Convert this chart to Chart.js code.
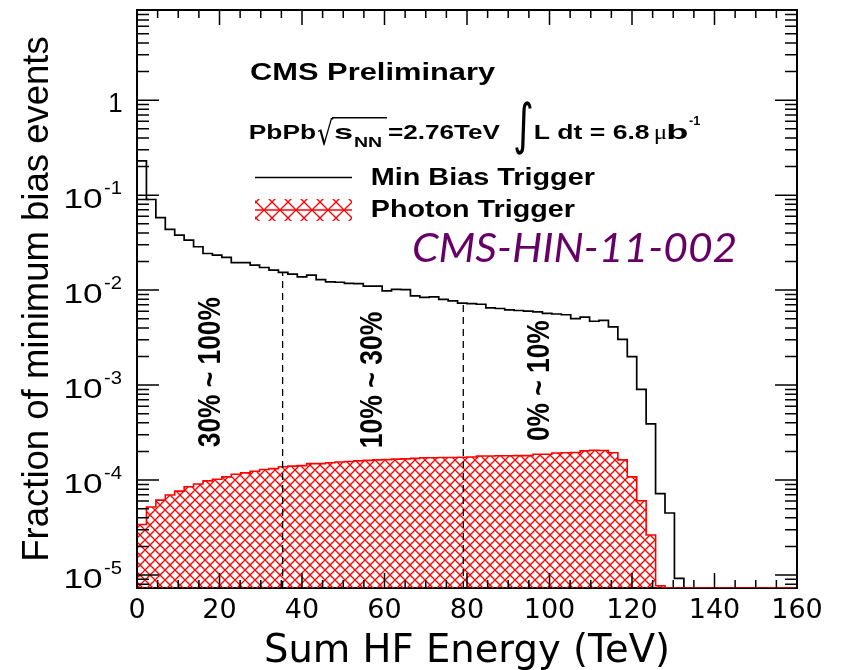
<!DOCTYPE html>
<html>
<head>
<meta charset="utf-8">
<script src="https://cdn.jsdelivr.net/npm/chart.js@4.4.1/dist/chart.umd.min.js"></script>
<style>
  html, body { margin: 0; padding: 0; background: #fff; }
  canvas { display: block; }
</style>
</head>
<body>
<canvas id="hf" width="846" height="670"></canvas>
<script>
// Sum HF energy histograms, 70 bins from 0 to 160 TeV
const BIN_WIDTH = 160 / 70;
const minBiasFraction = [
  0.23, 0.090, 0.058, 0.0435, 0.038, 0.0336, 0.0286, 0.0243, 0.0233, 0.0221,
  0.0195, 0.0195, 0.0183, 0.0173, 0.0162, 0.0154, 0.0147, 0.0138, 0.0144, 0.0129,
  0.0122, 0.0121, 0.0118, 0.0117, 0.0110, 0.0110, 0.0098, 0.0102, 0.0101, 0.0087,
  0.0084, 0.0085, 0.0080, 0.0077, 0.0073, 0.0072, 0.0071, 0.0065, 0.0064, 0.0062,
  0.0061, 0.0060, 0.0059, 0.0057, 0.0056, 0.0055, 0.0050, 0.0052, 0.0047, 0.0048,
  0.0041, 0.00303, 0.00199, 0.00090, 0.00039, 7.2e-5, 4.5e-5, 9.2e-6, 0, 0,
  0, 0, 0, 0, 0, 0, 0, 0, 0, 0
];
const photonFraction = [
  3.4e-5, 5.2e-5, 6.15e-5, 6.95e-5, 7.65e-5, 8.5e-5, 9.1e-5, 9.8e-5, 1.02e-4, 1.08e-4,
  1.15e-4, 1.19e-4, 1.24e-4, 1.29e-4, 1.32e-4, 1.38e-4, 1.40e-4, 1.42e-4, 1.49e-4, 1.49e-4,
  1.52e-4, 1.55e-4, 1.57e-4, 1.59e-4, 1.61e-4, 1.63e-4, 1.64e-4, 1.66e-4, 1.67e-4, 1.69e-4,
  1.72e-4, 1.72e-4, 1.73e-4, 1.73e-4, 1.74e-4, 1.75e-4, 1.79e-4, 1.79e-4, 1.80e-4, 1.80e-4,
  1.81e-4, 1.81e-4, 1.87e-4, 1.87e-4, 1.93e-4, 1.94e-4, 1.95e-4, 2.03e-4, 2.06e-4, 2.05e-4,
  1.94e-4, 1.63e-4, 1.08e-4, 6.05e-5, 2.64e-5, 7.7e-6, 0, 0, 0, 0,
  0, 0, 0, 0, 0, 0, 0, 0, 0, 0
];
const legendLabels = ['Min Bias Trigger', 'Photon Trigger'];

// centrality boundaries (TeV) and the region names
const centralityCuts = [35.3, 79.1];
const centralityLabels = ['30% ~ 100%', '10% ~ 30%', '0% ~ 10%'];

// axes
const X_MIN = 0, X_MAX = 160, X_MAJOR = 20, X_MINOR = 5;
const Y_MIN = 7.3e-6, Y_MAX = 8.9;
const yDecades = [-5, -4, -3, -2, -1, 0];

// rotated centrality names: [TeV at centre, fraction at text start, fraction at text end]
const centralityLabelAt = [[17.45, 2.22e-4, 8.4e-3], [56.7, 2.22e-4, 5.9e-3], [97.2, 2.64e-4, 4.8e-3]];

const B = s => `bold ${s}px "Liberation Sans", Arial, sans-serif`;
const R = s => `${s}px "Liberation Sans", Arial, sans-serif`;

// ROOT draws empty bins on the frame floor
const steps = vals => vals.map((v, i) => ({ x: i * BIN_WIDTH, y: Math.max(v, Y_MIN) }))
  .concat([{ x: X_MAX, y: Math.max(vals[vals.length - 1], Y_MIN) }]);
const binValue = e => minBiasFraction[Math.min(minBiasFraction.length - 1, Math.floor(e / BIN_WIDTH))];

function hatch(color, size, width) {
  const c = document.createElement('canvas');
  c.width = c.height = size;
  const g = c.getContext('2d');
  g.strokeStyle = color;
  g.lineWidth = width;
  const h = size / 2;
  g.beginPath();
  g.moveTo(h - 1, -1); g.lineTo(size + 1, h + 1);
  g.moveTo(-1, h - 1); g.lineTo(h + 1, size + 1);
  g.moveTo(h + 1, -1); g.lineTo(-1, h + 1);
  g.moveTo(size + 1, h - 1); g.lineTo(h - 1, size + 1);
  g.stroke();
  return g.createPattern(c, 'repeat');
}

// squeeze/stretch the ink of str between left and right, on baseline y
function fitInk(ctx, str, left, right, y, font) {
  ctx.save();
  ctx.font = font;
  ctx.textAlign = 'left';
  ctx.textBaseline = 'alphabetic';
  const m = ctx.measureText(str);
  const w = m.actualBoundingBoxLeft + m.actualBoundingBoxRight;
  ctx.translate(left, y);
  ctx.scale((right - left) / w, 1);
  ctx.fillText(str, m.actualBoundingBoxLeft, 0);
  ctx.restore();
}

function fitBox(ctx, str, left, top, right, bottom, font) {
  ctx.save();
  ctx.font = font;
  ctx.textAlign = 'left';
  ctx.textBaseline = 'alphabetic';
  const m = ctx.measureText(str);
  const w = m.actualBoundingBoxLeft + m.actualBoundingBoxRight;
  const h = m.actualBoundingBoxAscent + m.actualBoundingBoxDescent;
  ctx.translate(left, top);
  ctx.scale((right - left) / w, (bottom - top) / h);
  ctx.fillText(str, m.actualBoundingBoxLeft, m.actualBoundingBoxAscent);
  ctx.restore();
}

// text reading upwards, ink from yBottom to yTop, thickness thick around cx
function fitUp(ctx, str, cx, yBottom, yTop, thick, font) {
  ctx.save();
  ctx.font = font;
  ctx.textAlign = 'left';
  ctx.textBaseline = 'alphabetic';
  const m = ctx.measureText(str);
  const su = (yBottom - yTop) / (m.actualBoundingBoxLeft + m.actualBoundingBoxRight);
  const sv = thick / (m.actualBoundingBoxAscent + m.actualBoundingBoxDescent);
  ctx.translate(cx + thick / 2 - m.actualBoundingBoxDescent * sv, yBottom);
  ctx.rotate(-Math.PI / 2);
  ctx.scale(su, sv);
  ctx.fillText(str, m.actualBoundingBoxLeft, 0);
  ctx.restore();
}

const photonHatch = hatch('#ff0000', 10, 1.3);
const legendHatch = hatch('#ff0000', 16, 1.3);
legendHatch.setTransform(new DOMMatrix().translate(0, 210));

// frame, inward ticks, y labels, legend and texts in ROOT style
const rootStyle = {
  id: 'rootStyle',
  afterDatasetsDraw(chart) {
    const { ctx, chartArea: a, scales: { x, y } } = chart;
    ctx.save();
    ctx.strokeStyle = '#000';
    ctx.lineWidth = 2;
    ctx.beginPath();
    ctx.moveTo(a.left, a.bottom); ctx.lineTo(a.left, a.top);
    ctx.lineTo(a.right, a.top); ctx.lineTo(a.right, a.bottom);
    ctx.stroke();

    ctx.lineWidth = 1.5;
    ctx.beginPath();
    for (let v = X_MIN; v <= X_MAX; v += X_MINOR) {
      const px = x.getPixelForValue(v);
      const len = v % X_MAJOR === 0 ? 15 : 8;
      ctx.moveTo(px, a.bottom); ctx.lineTo(px, a.bottom - len);
      ctx.moveTo(px, a.top); ctx.lineTo(px, a.top + len);
    }
    for (let k = -6; k <= 0; k++) {
      for (let m = 1; m <= 9; m++) {
        const v = m * Math.pow(10, k);
        if (v < Y_MIN || v > Y_MAX) continue;
        const py = y.getPixelForValue(v);
        const len = m === 1 ? 22 : 12;
        ctx.moveTo(a.left, py); ctx.lineTo(a.left + len, py);
        ctx.moveTo(a.right, py); ctx.lineTo(a.right - len, py);
      }
    }
    ctx.stroke();

    // y tick labels 10^k
    ctx.fillStyle = '#000';
    yDecades.forEach(k => {
      const py = y.getPixelForValue(Math.pow(10, k));
      if (k === 0) {
        fitInk(ctx, '1', a.left - 27, a.left - 15, py + 12, R(28));
        return;
      }
      fitInk(ctx, '10', a.left - 71, a.left - 35, py + 13, R(28));
      fitInk(ctx, String(k), a.left - 33, a.left - 15, py - 1, R(18));
    });

    // header
    fitInk(ctx, 'CMS Preliminary', 250, 495, 80, B(23.5));
    fitInk(ctx, 'PbPb', 250, 315, 138.5, B(21));
    fitBox(ctx, '√', 317, 117, 334, 146, '24px "DejaVu Sans"');
    ctx.lineWidth = 1.4;
    ctx.beginPath(); ctx.moveTo(332, 117.7); ctx.lineTo(387, 117.7); ctx.stroke();
    fitInk(ctx, 's', 334, 352, 138.5, B(21));
    fitInk(ctx, 'NN', 354, 382, 146.5, B(14));
    fitInk(ctx, '=2.76TeV', 388, 500, 138.5, B(21));
    fitBox(ctx, '∫', 515, 100, 532, 155, '40px "DejaVu Sans"');
    fitInk(ctx, 'L dt = 6.8', 535, 650, 138.5, B(21));
    fitInk(ctx, 'μ', 655, 667, 138.5, '21px "Liberation Serif", serif');
    fitInk(ctx, 'b', 668, 687, 138.5, B(21));
    fitInk(ctx, '-1', 689, 700, 125, B(13));

    // legend
    const mb = chart.data.datasets[0], ph = chart.data.datasets[1];
    ctx.strokeStyle = mb.borderColor; ctx.lineWidth = mb.borderWidth;
    ctx.beginPath(); ctx.moveTo(255, 177.5); ctx.lineTo(352, 177.5); ctx.stroke();
    ctx.fillStyle = legendHatch;
    ctx.fillRect(255, 199, 97, 22);
    ctx.strokeStyle = ph.borderColor; ctx.lineWidth = ph.borderWidth;
    ctx.beginPath(); ctx.moveTo(255, 210); ctx.lineTo(352, 210); ctx.stroke();
    ctx.fillStyle = '#000';
    fitInk(ctx, legendLabels[0], 372, 595, 185, B(23));
    fitInk(ctx, legendLabels[1], 372, 575, 217, B(23));

    // centrality regions
    centralityLabels.forEach((t, i) => {
      const [e, v0, v1] = centralityLabelAt[i];
      fitUp(ctx, t, x.getPixelForValue(e), y.getPixelForValue(v0), y.getPixelForValue(v1), 22, B(26));
    });

    ctx.fillStyle = '#660066';
    fitInk(ctx, 'CMS-HIN-11-002', 413, 735, 262, 'italic 40px Lato, "Open Sans", sans-serif');
    ctx.restore();
  }
};

new Chart(document.getElementById('hf'), {
  type: 'line',
  data: {
    datasets: [
      {
        label: legendLabels[0],
        data: steps(minBiasFraction),
        borderColor: '#000000',
        borderWidth: 1.7,
        stepped: 'before',
        fill: false,
        pointRadius: 0,
        order: 2
      },
      {
        label: legendLabels[1],
        data: steps(photonFraction),
        borderColor: '#ff0000',
        borderWidth: 1.6,
        backgroundColor: photonHatch,
        stepped: 'before',
        fill: 'start',
        pointRadius: 0,
        order: 1
      },
      ...centralityCuts.map(c => ({
        label: 'cut ' + c,
        data: [{ x: c, y: Y_MIN }, { x: c, y: binValue(c) }],
        borderColor: '#000000',
        borderWidth: 1.3,
        borderDash: [7, 5],
        pointRadius: 0,
        fill: false,
        order: 0
      }))
    ]
  },
  options: {
    responsive: false,
    animation: false,
    events: [],
    layout: { padding: { top: 10, right: 49, left: 0, bottom: 0 } },
    plugins: { legend: { display: false }, tooltip: { enabled: false } },
    scales: {
      x: {
        type: 'linear',
        min: X_MIN,
        max: X_MAX,
        afterFit: s => { s.height = 82; },
        ticks: {
          stepSize: X_MAJOR,
          autoSkip: false,
          maxRotation: 0,
          padding: 9.7,
          color: '#000',
          font: { family: 'DejaVu Sans', size: 27, lineHeight: 1 }
        },
        grid: { display: false, drawTicks: false },
        border: { display: true, color: '#000', width: 2 },
        title: {
          display: true,
          text: 'Sum HF Energy (TeV)',
          color: '#000',
          font: { family: 'DejaVu Sans', size: 38.5, lineHeight: 1 },
          padding: { top: 0, bottom: -1 }
        }
      },
      y: {
        type: 'logarithmic',
        min: Y_MIN,
        max: Y_MAX,
        afterFit: s => { s.width = 137; },
        ticks: { display: false },
        grid: { display: false, drawTicks: false },
        border: { display: false },
        title: {
          display: true,
          text: 'Fraction of minimum bias events',
          color: '#000',
          font: { family: 'Liberation Sans', size: 36.5, lineHeight: 1 },
          padding: { top: 20, bottom: 0 }
        }
      }
    }
  },
  plugins: [rootStyle]
});
</script>
</body>
</html>
